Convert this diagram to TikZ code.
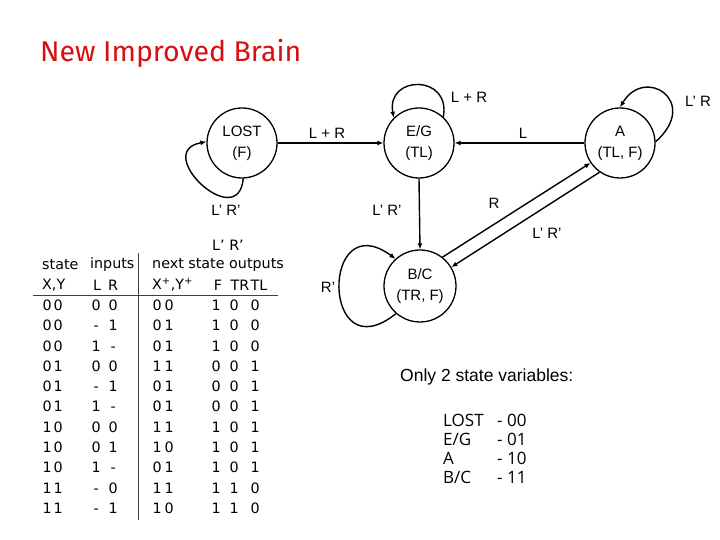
\documentclass[tikz,border=0pt]{standalone}
\usepackage{fontspec}
\setmainfont{Liberation Sans}
\newfontfamily\tblfont{DejaVu Sans}
\newfontfamily\keyfont{Open Sans}
\newfontfamily\headfont{Fira Sans}
\usetikzlibrary{arrows.meta}
\definecolor{brainred}{RGB}{215,15,15}
\newcommand{\tcell}[1]{\makebox[0pt][c]{#1}}
\newcommand{\trow}[9]{\tcell{#1}\hspace{11pt}\tcell{#2}\hspace{38pt}\tcell{#3}\hspace{17pt}\tcell{#4}\hspace{44pt}\tcell{#5}\hspace{12pt}\tcell{#6}\hspace{47pt}\tcell{#7}\hspace{18pt}\tcell{#8}\hspace{21pt}\tcell{#9}}

\begin{document}
\begin{tikzpicture}[
        x=1pt, y=1pt,
        state/.style={circle, draw, line width=1.3pt, minimum size=70pt, inner sep=0pt, align=center, font=\fontsize{15}{21}\selectfont},
        trans/.style={-{Latex[length=6pt,width=5pt]}, line width=1.4pt},
        lbl/.style={inner sep=1pt, font=\fontsize{15}{18}\selectfont},
        tbltext/.style={inner sep=0pt, font=\tblfont\fontsize{14.3}{16}\selectfont},
        tblrow/.style={tbltext, anchor=west},
        tblline/.style={line width=1pt, draw=black!75},
        legend/.style={inner sep=0pt, anchor=west, font=\keyfont\fontsize{17}{19}\selectfont}
    ]
        \useasboundingbox (0,0) rectangle (720,540);

        % Title
        \node[anchor=base west, inner sep=0pt, text=brainred, font=\headfont\fontsize{28.5}{32}\selectfont] (title) at (40,478) {New Improved Brain};

        % States
        \node[state] (lost) at (242,397) {LOST\\(F)};
        \node[state] (eg) at (419,397) {E/G\\(TL)};
        \node[state] (a) at (620,397) {A\\(TL, F)};
        \node[state, minimum size=72pt] (bc) at (420,254) {B/C\\(TR, F)};

        % Transitions
        \draw[trans] (lost.east) -- (eg.west);
        \draw[trans] (a.west) -- (eg.east);
        \draw[trans] (eg.south) -- (bc.north);
        \draw[trans] (bc.52) -- (a.214);
        \draw[trans] (a.235) -- (bc.31);

        % Self loops
        \draw[trans] (lost.-88) .. controls +(-5,-55) and +(-55,-10) .. (lost.178);
        \draw[trans] (eg.47) .. controls +(8,43) and +(-8,43) .. (eg.135);
        \draw[trans] (a.2) .. controls +(45,40) and +(25,42) .. (a.90);
        \draw[trans] (bc.229) .. controls +(-75,-60) and +(-75,55) .. (bc.132);

        % Transition labels
        \node[lbl] (lbllosteg) at (327,407) {L + R};
        \node[lbl] (lblaeg) at (523,407) {L};
        \node[lbl] (lblegbc) at (387,330) {L’ R’};
        \node[lbl] (lblbca) at (494,337) {R};
        \node[lbl] (lblabc) at (547,307) {L’ R’};
        \node[lbl] (lbllost) at (226,330) {L’ R’};
        \node[lbl] (lbleg) at (469,443) {L + R};
        \node[lbl] (lbla) at (698,439) {L’ R};
        \node[lbl] (lblbc) at (328,253) {R’};

        % State table
        \coordinate (vtop) at (138,287);
        \coordinate (vbot) at (138,20);
        \coordinate (hleft) at (33,244);
        \coordinate (hright) at (278,244);
        \draw[tblline] (vtop) -- (vbot);
        \draw[tblline] (hleft) -- (hright);

        \node[tbltext] (extra) at (228,295) {L’ R’};
        \node[tbltext, anchor=west] (hstate) at (42,275) {state};
        \node[tbltext, anchor=west] (hinputs) at (90,275) {inputs};
        \node[tbltext, anchor=west] (hnext) at (152,275) {next state outputs};
        \node[tbltext, anchor=west] (hxy) at (42,255) {X,Y};
        \node[tbltext] (hl) at (97,255) {L};
        \node[tbltext] (hr) at (113,255) {R};
        \node[tbltext, anchor=west] (hxyp) at (152,255) {X\textsuperscript{+},Y\textsuperscript{+}};
        \node[tbltext] (hf) at (218,255) {F};
        \node[tbltext] (htr) at (240,255) {TR};
        \node[tbltext] (htl) at (259,255) {TL};

        \node[tblrow] (r1) at (47,235) {\trow{0}{0}{0}{0}{0}{0}{1}{0}{0}};
        \node[tblrow] (r2) at (47,215) {\trow{0}{0}{-}{1}{0}{1}{1}{0}{0}};
        \node[tblrow] (r3) at (47,194) {\trow{0}{0}{1}{-}{0}{1}{1}{0}{0}};
        \node[tblrow] (r4) at (47,174) {\trow{0}{1}{0}{0}{1}{1}{0}{0}{1}};
        \node[tblrow] (r5) at (47,154) {\trow{0}{1}{-}{1}{0}{1}{0}{0}{1}};
        \node[tblrow] (r6) at (47,134) {\trow{0}{1}{1}{-}{0}{1}{0}{0}{1}};
        \node[tblrow] (r7) at (47,113) {\trow{1}{0}{0}{0}{1}{1}{1}{0}{1}};
        \node[tblrow] (r8) at (47,93) {\trow{1}{0}{0}{1}{1}{0}{1}{0}{1}};
        \node[tblrow] (r9) at (47,73) {\trow{1}{0}{1}{-}{0}{1}{1}{0}{1}};
        \node[tblrow] (r10) at (47,52) {\trow{1}{1}{-}{0}{1}{1}{1}{1}{0}};
        \node[tblrow] (r11) at (47,32) {\trow{1}{1}{-}{1}{1}{0}{1}{1}{0}};

        % State assignment
        \node[anchor=west, inner sep=0pt, font=\fontsize{17.5}{20}\selectfont] (only) at (400,163) {Only 2 state variables:};
        \node[legend] (klost) at (443,120) {LOST};
        \node[legend] (vlost) at (497,120) {- 00};
        \node[legend] (keg) at (443,101) {E/G};
        \node[legend] (veg) at (497,101) {- 01};
        \node[legend] (ka) at (443,82) {A};
        \node[legend] (va) at (497,82) {- 10};
        \node[legend] (kbc) at (443,63) {B/C};
        \node[legend] (vbc) at (497,63) {- 11};
\end{tikzpicture}
\end{document}
